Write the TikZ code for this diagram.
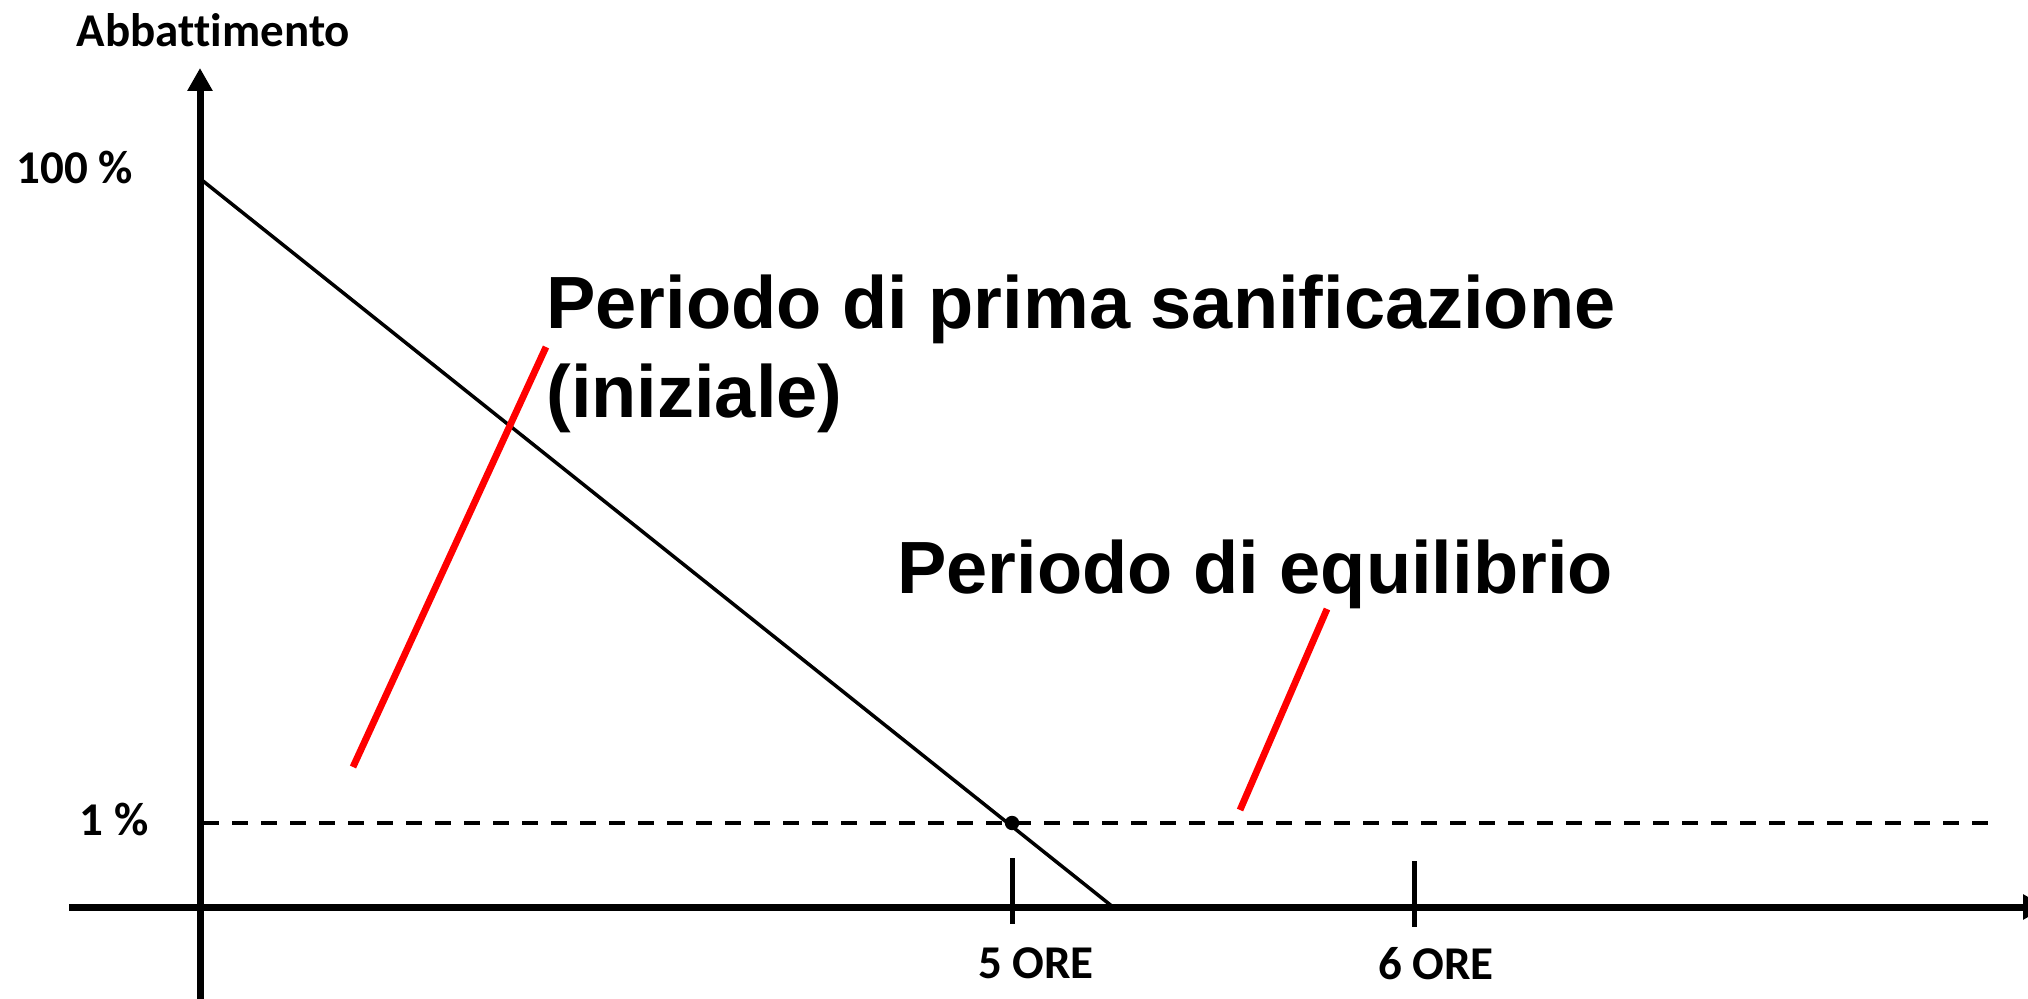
\documentclass[tikz,border=0pt]{standalone}
\usepackage{fontspec}
\setmainfont{Liberation Sans}
\newfontfamily\calib[Ligatures=NoCommon]{Carlito}
\usetikzlibrary{arrows.meta}
\tikzset{
  axislbl/.style={font=\calib\bfseries\fontsize{23.5pt}{28pt}\selectfont, inner sep=0pt, anchor=base},
  bigtxt/.style={font=\bfseries\fontsize{37pt}{44pt}\selectfont, inner sep=0pt, anchor=base west},
  axisline/.style={line width=3.5pt, -{Triangle[width=12pt,length=11.5pt]}},
  curve/.style={line width=1.75pt},
  level/.style={line width=2pt, dash pattern=on 8pt off 6.5pt},
  tickmark/.style={line width=2.5pt},
  pointer/.style={line width=3.4pt, draw={rgb,255:red,255;green,0;blue,0}}
}
\begin{document}
\begin{tikzpicture}[x=0.5pt,y=-0.5pt]
\useasboundingbox (0,0) rectangle (2028,999);
\fill[white] (0,0) rectangle (2028,999);
% coordinates
\coordinate (yb) at (200,1005);
\coordinate (yt) at (200,68);
\coordinate (xl) at (69,907);
\coordinate (xr) at (2046,907);
\coordinate (c0) at (203,181);
\coordinate (c1) at (1113,907);
\coordinate (d0) at (203,823);
\coordinate (d1) at (1993,823);
\coordinate (p5) at (1012,823);
\coordinate (t5a) at (1012,858);
\coordinate (t5b) at (1012,924);
\coordinate (t6a) at (1414,861);
\coordinate (t6b) at (1414,927);
\coordinate (r1a) at (353,767);
\coordinate (r1b) at (546,347);
\coordinate (r2a) at (1240,810);
\coordinate (r2b) at (1327,609);
% axes
\draw[axisline] (yb) -- (yt);
\draw[axisline] (xl) -- (xr);
% lines
\draw[level] (d0) -- (d1);
\draw[curve] (c0) -- (c1);
\fill (p5) circle[radius=3.6pt];
\draw[tickmark] (t5a) -- (t5b);
\draw[tickmark] (t6a) -- (t6b);
\draw[pointer] (r1a) -- (r1b);
\draw[pointer] (r2a) -- (r2b);
% labels
\node[axislbl] (abb) at (213.5,47) {Abbattimento};
\node[axislbl] (cento) at (75,184) {100 \%};
\node[axislbl] (uno) at (114,835) {1 \%};
\node[axislbl] (ore5) at (1036,978) {5 ORE};
\node[axislbl] (ore6) at (1436,979) {6 ORE};
\node[bigtxt] (tit1) at (546,329) {Periodo di prima sanificazione};
\node[bigtxt] (tit2) at (546,418) {(iniziale)};
\node[bigtxt] (tit3) at (897,593) {Periodo di equilibrio};
\end{tikzpicture}
\end{document}
